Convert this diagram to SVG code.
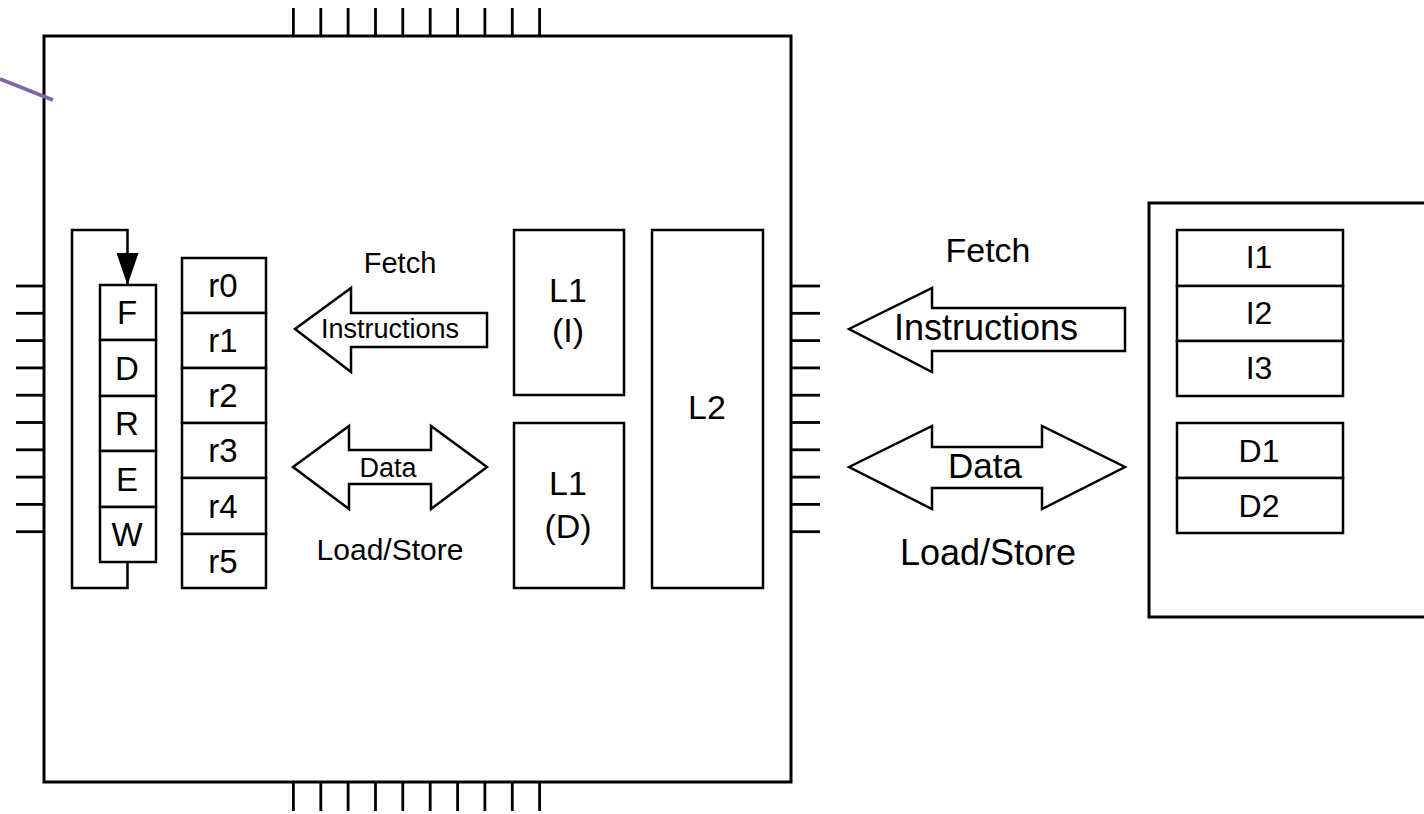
<svg xmlns="http://www.w3.org/2000/svg" width="1424" height="814" viewBox="0 0 1424 814">
<style>
  .box { fill: #ffffff; stroke: #000000; stroke-width: 2.5; }
  .frame { fill: #ffffff; stroke: #000000; stroke-width: 3; }
  .pin { stroke: #000000; stroke-width: 2.8; }
  .blk { fill: #ffffff; stroke: #000000; stroke-width: 2.5; stroke-linejoin: miter; }
  .line { fill: none; stroke: #000000; stroke-width: 2.5; }
  text { font-family: "Liberation Sans", Arial, Helvetica, sans-serif; fill: #000000; text-anchor: middle; }
  .t33 { font-size: 33px; }
  .t34 { font-size: 34px; }
</style>
<defs>
  <marker id="ah" markerUnits="userSpaceOnUse" markerWidth="32" markerHeight="22" refX="32" refY="11" orient="auto">
    <path d="M0,0 L32,11 L0,22 z" fill="#000000"/>
  </marker>
</defs>
<rect x="0" y="0" width="1424" height="814" fill="#ffffff"/>

<g id="chip-pins">
  <g class="pin">
    <line x1="293.4" y1="8" x2="293.4" y2="36"/><line x1="320.8" y1="8" x2="320.8" y2="36"/><line x1="348.1" y1="8" x2="348.1" y2="36"/><line x1="375.5" y1="8" x2="375.5" y2="36"/><line x1="402.8" y1="8" x2="402.8" y2="36"/><line x1="430.2" y1="8" x2="430.2" y2="36"/><line x1="457.6" y1="8" x2="457.6" y2="36"/><line x1="484.9" y1="8" x2="484.9" y2="36"/><line x1="512.3" y1="8" x2="512.3" y2="36"/><line x1="539.6" y1="8" x2="539.6" y2="36"/>
    <line x1="293.4" y1="782" x2="293.4" y2="811"/><line x1="320.8" y1="782" x2="320.8" y2="811"/><line x1="348.1" y1="782" x2="348.1" y2="811"/><line x1="375.5" y1="782" x2="375.5" y2="811"/><line x1="402.8" y1="782" x2="402.8" y2="811"/><line x1="430.2" y1="782" x2="430.2" y2="811"/><line x1="457.6" y1="782" x2="457.6" y2="811"/><line x1="484.9" y1="782" x2="484.9" y2="811"/><line x1="512.3" y1="782" x2="512.3" y2="811"/><line x1="539.6" y1="782" x2="539.6" y2="811"/>
    <line x1="16" y1="286" x2="44" y2="286"/><line x1="16" y1="313.3" x2="44" y2="313.3"/><line x1="16" y1="340.6" x2="44" y2="340.6"/><line x1="16" y1="367.9" x2="44" y2="367.9"/><line x1="16" y1="395.2" x2="44" y2="395.2"/><line x1="16" y1="422.5" x2="44" y2="422.5"/><line x1="16" y1="449.8" x2="44" y2="449.8"/><line x1="16" y1="477.1" x2="44" y2="477.1"/><line x1="16" y1="504.4" x2="44" y2="504.4"/><line x1="16" y1="531.7" x2="44" y2="531.7"/>
    <line x1="791" y1="286" x2="820" y2="286"/><line x1="791" y1="313.3" x2="820" y2="313.3"/><line x1="791" y1="340.6" x2="820" y2="340.6"/><line x1="791" y1="367.9" x2="820" y2="367.9"/><line x1="791" y1="395.2" x2="820" y2="395.2"/><line x1="791" y1="422.5" x2="820" y2="422.5"/><line x1="791" y1="449.8" x2="820" y2="449.8"/><line x1="791" y1="477.1" x2="820" y2="477.1"/><line x1="791" y1="504.4" x2="820" y2="504.4"/><line x1="791" y1="531.7" x2="820" y2="531.7"/>
  </g>
</g>

<g id="chip">
  <rect class="frame" x="44" y="36" width="747" height="746"/>
</g>

<g id="memory">
  <rect class="frame" x="1149" y="203" width="300" height="414"/>
</g>

<g id="pipeline">
  <rect class="box" x="100" y="285" width="56" height="55"/>
  <rect class="box" x="100" y="340" width="56" height="56"/>
  <rect class="box" x="100" y="396" width="56" height="55"/>
  <rect class="box" x="100" y="451" width="56" height="56"/>
  <rect class="box" x="100" y="507" width="56" height="55"/>
  <text class="t33" x="127" y="324">F</text>
  <text class="t33" x="127" y="379.5">D</text>
  <text class="t33" x="127" y="435">R</text>
  <text class="t33" x="127" y="490.5">E</text>
  <text class="t33" x="127" y="546">W</text>
</g>

<g id="registers">
  <rect class="box" x="182" y="258" width="84" height="55"/>
  <rect class="box" x="182" y="313" width="84" height="55"/>
  <rect class="box" x="182" y="368" width="84" height="55"/>
  <rect class="box" x="182" y="423" width="84" height="55"/>
  <rect class="box" x="182" y="478" width="84" height="56"/>
  <rect class="box" x="182" y="534" width="84" height="54"/>
  <text class="t33" x="223" y="297">r0</text>
  <text class="t33" x="223" y="352">r1</text>
  <text class="t33" x="223" y="407">r2</text>
  <text class="t33" x="223" y="462">r3</text>
  <text class="t33" x="223" y="517.5">r4</text>
  <text class="t33" x="223" y="572.5">r5</text>
</g>

<g id="l1-i">
  <rect class="box" x="514" y="230" width="110" height="165"/>
  <text class="t34" x="568" y="302">L1</text>
  <text class="t34" x="568" y="342">(I)</text>
</g>

<g id="l1-d">
  <rect class="box" x="514" y="423" width="110" height="165"/>
  <text class="t34" x="568" y="495">L1</text>
  <text class="t34" x="568" y="538">(D)</text>
</g>

<g id="l2">
  <rect class="box" x="652" y="230" width="111" height="358"/>
  <text class="t34" x="707" y="419">L2</text>
</g>

<g id="imem">
  <rect class="box" x="1177" y="230" width="166" height="56"/>
  <rect class="box" x="1177" y="286" width="166" height="55"/>
  <rect class="box" x="1177" y="341" width="166" height="55"/>
  <text font-size="32" x="1259" y="268">I1</text>
  <text font-size="32" x="1259" y="323.5">I2</text>
  <text font-size="32" x="1259" y="378.5">I3</text>
</g>

<g id="dmem">
  <rect class="box" x="1177" y="423" width="166" height="55"/>
  <rect class="box" x="1177" y="478" width="166" height="55"/>
  <text font-size="32" x="1259" y="462">D1</text>
  <text font-size="32" x="1259" y="516.5">D2</text>
</g>

<g id="fetch-inner">
  <polygon class="blk" points="295,329 351,288 351,313 487,313 487,347 351,347 351,372"/>
  <text font-size="29" x="400" y="273">Fetch</text>
  <text font-size="27" x="390" y="338">Instructions</text>
</g>

<g id="data-inner">
  <polygon class="blk" points="293,467 349,426 349,450 431,450 431,426 487,467 431,509 431,484 349,484 349,509"/>
  <text font-size="27" x="388" y="477">Data</text>
  <text font-size="30" x="390" y="560">Load/Store</text>
</g>

<g id="fetch-outer">
  <polygon class="blk" points="849,329 932,288 932,308 1125,308 1125,351 932,351 932,372"/>
  <text font-size="34" x="988" y="262">Fetch</text>
  <text font-size="36" x="986" y="340">Instructions</text>
</g>

<g id="data-outer">
  <polygon class="blk" points="849,467 932,426 932,447 1042,447 1042,426 1125,467 1042,509 1042,488 932,488 932,509"/>
  <text font-size="35" x="985" y="478">Data</text>
  <text font-size="36" x="988" y="565">Load/Store</text>
</g>

<g id="connectors">
  <polyline class="line" points="127.5,562 127.5,588 72,588 72,230 127.5,230 127.5,285" marker-end="url(#ah)"/>
  <line x1="0" y1="79" x2="53" y2="100" stroke="#8064a8" stroke-width="3.5"/>
</g>
</svg>
